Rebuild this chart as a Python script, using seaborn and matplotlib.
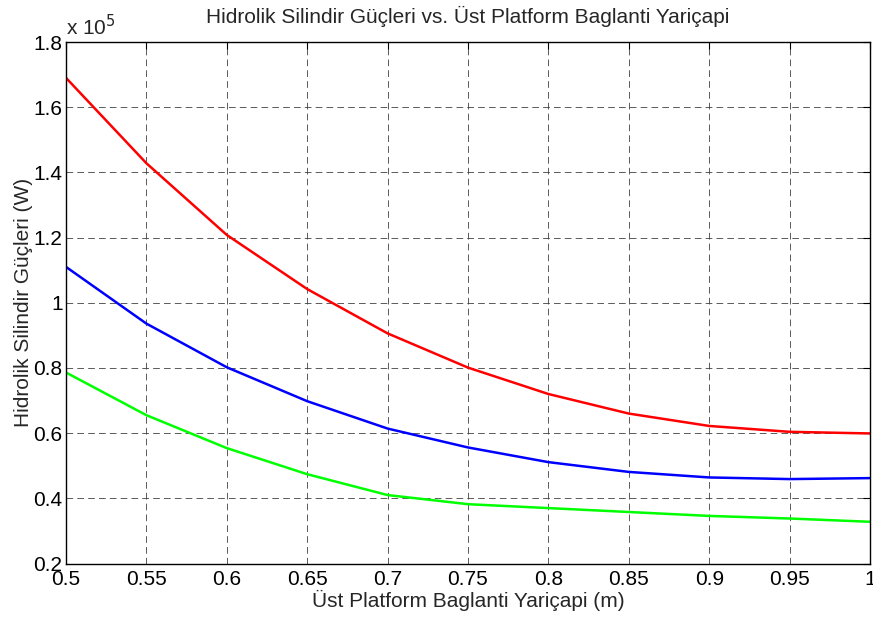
import matplotlib
matplotlib.use("Agg")
import matplotlib.pyplot as plt
import seaborn as sns
import pandas as pd

# Data (power in units of 1e5 W)
radius = [0.5, 0.55, 0.6, 0.65, 0.7, 0.75, 0.8, 0.85, 0.9, 0.95, 1.0]
power_red = [1.690, 1.428, 1.208, 1.042, 0.906, 0.801, 0.720, 0.660, 0.622, 0.604, 0.599]
power_blue = [1.110, 0.936, 0.802, 0.698, 0.614, 0.556, 0.511, 0.481, 0.464, 0.459, 0.462]
power_green = [0.786, 0.655, 0.554, 0.474, 0.410, 0.382, 0.370, 0.358, 0.346, 0.338, 0.328]
y_ticks = [0.2, 0.4, 0.6, 0.8, 1.0, 1.2, 1.4, 1.6, 1.8]
y_ticklabels = ["0.2", "0.4", "0.6", "0.8", "1", "1.2", "1.4", "1.6", "1.8"]
x_ticks = [0.5, 0.55, 0.6, 0.65, 0.7, 0.75, 0.8, 0.85, 0.9, 0.95, 1.0]
x_ticklabels = ["0.5", "0.55", "0.6", "0.65", "0.7", "0.75", "0.8", "0.85", "0.9", "0.95", "1"]

sns.set_style("white")
plt.rcParams["font.family"] = ["Liberation Sans", "DejaVu Sans"]

FS = 15

fig = plt.figure(figsize=(8.73, 6.18), dpi=100)
ax = fig.add_axes([66 / 873, 1 - 563.5 / 618, (870 - 66) / 873, (563.5 - 42) / 618])

for vals, col in [(power_red, "#ff0000"), (power_blue, "#0000ff"), (power_green, "#00ff00")]:
    df = pd.DataFrame({"x": radius, "y": vals})
    sns.lineplot(data=df, x="x", y="y", color=col, linewidth=1.8, ax=ax)

ax.set_xlim(0.5, 1.0)
ax.set_ylim(0.2, 1.8)
ax.set_xticks(x_ticks)
ax.set_xticklabels(x_ticklabels)
ax.set_yticks(y_ticks)
ax.set_yticklabels(y_ticklabels)

ax.grid(True, color="0.25", linestyle=(0, (8, 5)), linewidth=0.6)
for s in ax.spines.values():
    s.set_color("black")
    s.set_linewidth(1.0)
    s.set_visible(True)

ax.tick_params(axis="both", direction="in", length=5, width=0.8, color="black",
               top=True, right=True, labelsize=FS, labelcolor="black")
ax.tick_params(axis="x", pad=4.5)
ax.tick_params(axis="y", pad=2.5)

ax.set_xlabel("Üst Platform Baglanti Yariçapi (m)", fontsize=FS, labelpad=1)
ax.set_ylabel("Hidrolik Silindir Güçleri (W)", fontsize=FS, labelpad=0.5)
ax.set_title("Hidrolik Silindir Güçleri vs. Üst Platform Baglanti Yariçapi", fontsize=FS, pad=13.5)

fig.text(66 / 873, 1 - 35 / 618, "x 10$^{5}$", fontsize=FS, ha="left", va="baseline")

fig.savefig("out.png", dpi=100, facecolor="white")
